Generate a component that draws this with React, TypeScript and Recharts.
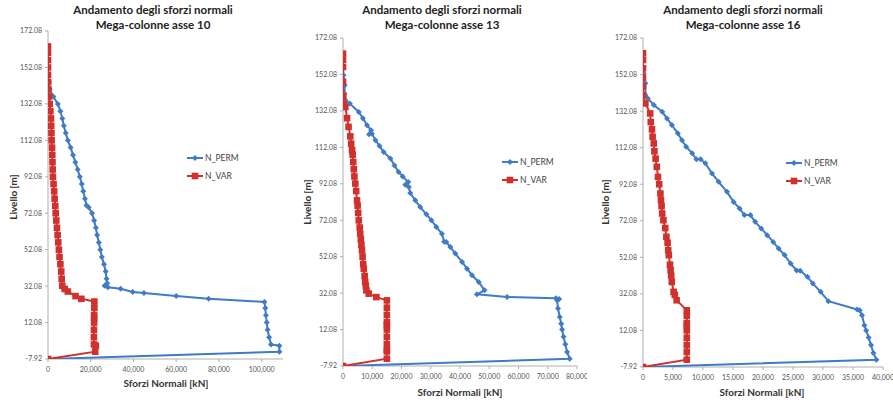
import { ScatterChart, Scatter, XAxis, YAxis } from 'recharts';

const BLUE = '#3F7BC6';
const RED = '#D0312D';

const levelTicks = [-7.92, 12.08, 32.08, 52.08, 72.08, 92.08, 112.08, 132.08, 152.08, 172.08];
const seriesNames = ['N_PERM', 'N_VAR'];
const titleLine1 = 'Andamento degli sforzi normali';
const panelNames = ['Mega-colonne asse 10', 'Mega-colonne asse 13', 'Mega-colonne asse 16'];

const ticks10 = [0, 20000, 40000, 60000, 80000, 100000];
const ticks13 = [0, 10000, 20000, 30000, 40000, 50000, 60000, 70000, 80000];
const ticks16 = [0, 5000, 10000, 15000, 20000, 25000, 30000, 35000, 40000];

// [force kN, level m]
const perm10: [number, number][] = [
  [0, -7.92], [108300, -3.92], [108300, -0.6], [104400, 0.08], [103500, 4.08], [102800, 8.08],
  [102400, 12.08], [102000, 16.08], [101700, 20.08], [101300, 23.4], [75200, 25.1], [60000, 26.6],
  [44900, 28.3], [39700, 28.8], [34000, 30.6], [28000, 31.5], [26500, 32.3], [27700, 33.7],
  [27400, 36.08], [27000, 40.08], [26200, 44.08], [25200, 48.08], [24500, 52.08], [23800, 56.08],
  [23000, 60.08], [22400, 64.08], [21600, 68.08], [20600, 72.08], [19000, 75.4], [18000, 76.4],
  [17300, 80.08], [16500, 84.08], [15800, 88.08], [14900, 92.08], [13900, 96.08], [12800, 100.08],
  [11700, 104.08], [10600, 108.08], [9300, 112.08], [8300, 116.08], [7400, 120.08], [6700, 124.08],
  [5800, 128.08], [4600, 132.08], [2500, 136.08], [800, 140.08], [300, 144.08], [100, 148.08],
];
const var10: [number, number][] = [
  [0, -7.92], [22100, -3.92], [22400, -0.6], [21500, 0.08], [21500, 4.08], [21500, 8.08],
  [21600, 12.08], [21600, 14.5], [21600, 16.08], [21700, 20.08], [21700, 23.6], [15600, 25.1],
  [12900, 26.6], [9300, 29.1], [7800, 30.5], [6700, 32.3], [6400, 36.08], [6200, 40.08],
  [5800, 44.08], [5400, 48.08], [5100, 52.08], [4800, 56.08], [4500, 60.08], [4200, 64.08],
  [3900, 68.08], [3600, 72.08], [3400, 76.08], [3100, 80.08], [2900, 84.08], [2600, 88.08],
  [2300, 92.08], [2200, 96.08], [2100, 100.08], [2000, 104.08], [1900, 108.08], [1700, 112.08],
  [1600, 116.08], [1500, 120.08], [1400, 124.08], [1100, 128.08], [800, 132.08], [500, 136.08],
  [200, 140.08], [100, 144.08], [0, 148.08], [0, 152.08], [0, 156.08], [0, 160.08], [0, 163.6],
];

const perm13: [number, number][] = [
  [0, -7.92], [77500, -3.92], [76600, -0.2], [76000, 4.08], [75400, 8.08], [74900, 12.08],
  [74600, 15.3], [74100, 19.0], [73500, 23.6], [73200, 28.1], [73900, 28.9], [72800, 29.2],
  [56100, 30.0], [45800, 31.4], [48400, 33.6], [46400, 38.2], [44100, 41.9], [42400, 45.5],
  [40700, 49.2], [38400, 53.8], [36700, 57.4], [35300, 60.1], [34600, 60.3], [33800, 64.7],
  [31900, 68.4], [30200, 72.08], [28500, 75.3], [26400, 79.3], [24700, 83.0], [23000, 87.0],
  [22500, 90.3], [21300, 91.5], [22300, 93.0], [20400, 96.08], [19000, 98.6], [17600, 102.08],
  [16200, 106.0], [13900, 109.5], [12500, 112.8], [11100, 116.0], [9900, 119.6], [8900, 119.3],
  [9600, 121.5], [8200, 124.2], [6800, 128.08], [5400, 131.5], [2300, 136.1], [800, 137.9],
  [500, 141.6], [600, 146.1], [200, 151.6], [0, 156.2],
];
const var13: [number, number][] = [
  [0, -7.92], [15000, -3.92], [15000, 0.08], [15000, 0.8], [15000, 4.08], [15000, 8.08],
  [15000, 12.08], [15000, 14.5], [15000, 16.08], [15000, 20.08], [15000, 24.08], [15000, 28.1],
  [11400, 29.9], [8800, 31.8], [8000, 33.6], [7800, 36.08], [7600, 38.2], [7400, 41.5],
  [7100, 45.5], [6900, 48.08], [6700, 52.08], [6500, 55.6], [6300, 58.5], [6100, 61.5],
  [5900, 64.7], [5700, 68.08], [5400, 72.0], [5200, 76.08], [5000, 80.08], [4800, 83.0],
  [4500, 88.08], [4200, 92.2], [3900, 96.08], [3700, 100.08], [3500, 104.08], [3300, 108.08],
  [3100, 110.5], [2800, 114.08], [2500, 118.08], [1900, 123.3], [1400, 128.08], [800, 134.2],
  [200, 136.0], [100, 140.08], [0, 148.08], [0, 156.2], [0, 160.08], [0, 163.5],
];

const perm16: [number, number][] = [
  [0, -7.92], [38900, -3.92], [38400, -0.25], [38000, 4.08], [37600, 8.2], [37200, 12.08],
  [36900, 14.9], [36500, 20.4], [36100, 23.1], [35700, 23.5], [30900, 28.1], [29600, 33.2],
  [28300, 37.8], [27400, 41.4], [26200, 44.7], [25600, 44.9], [24600, 48.7], [23600, 53.3],
  [22600, 56.9], [21700, 60.5], [20700, 64.2], [19700, 67.9], [18700, 71.5], [17900, 75.2],
  [16900, 75.2], [16100, 78.8], [15100, 82.4], [14000, 87.9], [12600, 93.4], [11500, 98.0],
  [10400, 103.5], [9600, 105.7], [8900, 105.7], [8200, 109.0], [7200, 112.6], [6500, 116.08],
  [5800, 119.9], [4800, 124.5], [4000, 128.1], [3200, 131.7], [1800, 135.4], [800, 139.0],
  [400, 140.9], [400, 147.3], [100, 152.8], [0, 156.4],
];
const var16: [number, number][] = [
  [0, -7.92], [7300, -3.92], [7300, 0.3], [7300, 4.08], [7300, 8.08], [7300, 12.08],
  [7300, 14.5], [7300, 16.08], [7300, 20.08], [7300, 23.1], [5600, 28.6], [5300, 31.5],
  [5100, 33.2], [4800, 38.6], [4700, 42.08], [4600, 45.0], [4500, 48.08], [4300, 53.3],
  [4200, 56.08], [4100, 60.08], [3900, 63.3], [3700, 68.08], [3400, 72.4], [3200, 76.08],
  [3100, 80.08], [3000, 83.4], [2900, 87.0], [2700, 92.08], [2500, 96.08], [2300, 101.6],
  [2100, 106.08], [1900, 110.08], [1800, 114.4], [1600, 118.08], [1500, 122.08], [1300, 126.08],
  [1200, 130.8], [400, 136.3], [0, 140.9], [0, 145.5], [0, 150.5], [0, 155.5], [0, 160.08], [0, 163.7],
];

const toPts = (arr: [number, number][]) => arr.map(([x, y]) => ({ x, y }));

const Diamond = (p: any) => {
  const { cx, cy } = p;
  if (cx == null || cy == null) return null;
  return <path d={`M${cx},${cy - 3}L${cx + 3},${cy}L${cx},${cy + 3}L${cx - 3},${cy}Z`} fill={BLUE} />;
};
const Square = (p: any) => {
  const { cx, cy } = p;
  if (cx == null || cy == null) return null;
  return <rect x={cx - 3.3} y={cy - 3.3} width={6.6} height={6.6} fill={RED} />;
};

const font = 'Lato, "Open Sans", sans-serif';
const tickStyle = { fontSize: 7, fill: '#555', fontFamily: font };

interface PanelProps {
  left: number;
  width: number;
  top: number;
  bottom: number;
  yAxisWidth: number;
  xAxisHeight: number;
  rightPad: number;
  xMax: number;
  xTicks: number[];
  perm: [number, number][];
  vari: [number, number][];
}

function Panel(p: PanelProps) {
  return (
    <div style={{ position: 'absolute', left: p.left, top: 0 }}>
      <ScatterChart
        width={p.width}
        height={400}
        margin={{ top: p.top, right: p.rightPad, left: 0, bottom: p.bottom }}
      >
        <XAxis
          type="number"
          dataKey="x"
          domain={[0, p.xMax]}
          ticks={p.xTicks}
          allowDataOverflow
          height={p.xAxisHeight}
          tick={tickStyle}
          tickSize={3}
          tickMargin={5}
          stroke="#AFAFAF"
          tickFormatter={(v: number) => v.toLocaleString('en-US')}
        />
        <YAxis
          type="number"
          dataKey="y"
          domain={[-7.92, 172.08]}
          ticks={levelTicks}
          allowDataOverflow
          width={p.yAxisWidth}
          tick={tickStyle}
          tickSize={3}
          tickMargin={3}
          stroke="#AFAFAF"
          tickFormatter={(v: number) => v.toFixed(2)}
        />
        <Scatter
          name={seriesNames[0]}
          data={toPts(p.perm)}
          line={{ stroke: BLUE, strokeWidth: 2 }}
          lineType="joint"
          shape={Diamond}
          isAnimationActive={false}
        />
        <Scatter
          name={seriesNames[1]}
          data={toPts(p.vari)}
          line={{ stroke: RED, strokeWidth: 2 }}
          lineType="joint"
          shape={Square}
          isAnimationActive={false}
        />
      </ScatterChart>
    </div>
  );
}

function Title({ cx, line2 }: { cx: number; line2: string }) {
  return (
    <div
      style={{
        position: 'absolute', left: cx - 110, top: 2, width: 220, textAlign: 'center',
        fontFamily: font, fontWeight: 700, fontSize: 11.5, lineHeight: '15px', color: '#222',
      }}
    >
      <div>{titleLine1}</div>
      <div>{line2}</div>
    </div>
  );
}

function XLabel({ cx, cy }: { cx: number; cy: number }) {
  return (
    <div
      style={{
        position: 'absolute', left: cx - 70, top: cy - 7, width: 140, textAlign: 'center',
        fontFamily: font, fontWeight: 700, fontSize: 10, lineHeight: '14px', color: '#333',
      }}
    >
      Sforzi Normali [kN]
    </div>
  );
}

function YLabel({ cx, cy }: { cx: number; cy: number }) {
  return (
    <div
      style={{
        position: 'absolute', left: cx - 40, top: cy - 7, width: 80, height: 14, textAlign: 'center',
        fontFamily: font, fontWeight: 700, fontSize: 10, lineHeight: '14px', color: '#333',
        transform: 'rotate(-90deg)',
      }}
    >
      Livello [m]
    </div>
  );
}

function LegendBox({ x, y }: { x: number; y: number }) {
  const row = (i: number) => (
    <div key={i} style={{ display: 'flex', alignItems: 'center', height: 18 }}>
      <svg width={16} height={10} style={{ marginRight: 2 }}>
        <line x1={0} y1={5} x2={16} y2={5} stroke={i === 0 ? BLUE : RED} strokeWidth={2} />
        {i === 0 ? (
          <path d="M8,2L11,5L8,8L5,5Z" fill={BLUE} />
        ) : (
          <rect x={4.7} y={1.7} width={6.6} height={6.6} fill={RED} />
        )}
      </svg>
      <span>{seriesNames[i]}</span>
    </div>
  );
  return (
    <div
      style={{
        position: 'absolute', left: x, top: y, fontFamily: font, fontSize: 8.5, color: '#444',
      }}
    >
      {row(0)}
      {row(1)}
    </div>
  );
}

export default function App() {
  return (
    <div style={{ position: 'absolute', left: 0, top: 0, width: 893, height: 400, background: '#fff', overflow: 'hidden' }}>
      <Panel left={0} width={292} top={31} bottom={10} yAxisWidth={48} xAxisHeight={31} rightPad={9}
        xMax={110000} xTicks={ticks10} perm={perm10} vari={var10} />
      <Panel left={293} width={294} top={38} bottom={9} yAxisWidth={50} xAxisHeight={25} rightPad={10}
        xMax={80000} xTicks={ticks13} perm={perm13} vari={var13} />
      <Panel left={593} width={300} top={38} bottom={8} yAxisWidth={50} xAxisHeight={25} rightPad={10}
        xMax={40000} xTicks={ticks16} perm={perm16} vari={var16} />

      <Title cx={153} line2={panelNames[0]} />
      <Title cx={442} line2={panelNames[1]} />
      <Title cx={743} line2={panelNames[2]} />

      <XLabel cx={166} cy={383} />
      <XLabel cx={460} cy={392} />
      <XLabel cx={762} cy={392} />

      <YLabel cx={13} cy={197} />
      <YLabel cx={307} cy={202} />
      <YLabel cx={605} cy={202} />

      <LegendBox x={187} y={149} />
      <LegendBox x={502} y={153} />
      <LegendBox x={786} y={154} />
    </div>
  );
}
